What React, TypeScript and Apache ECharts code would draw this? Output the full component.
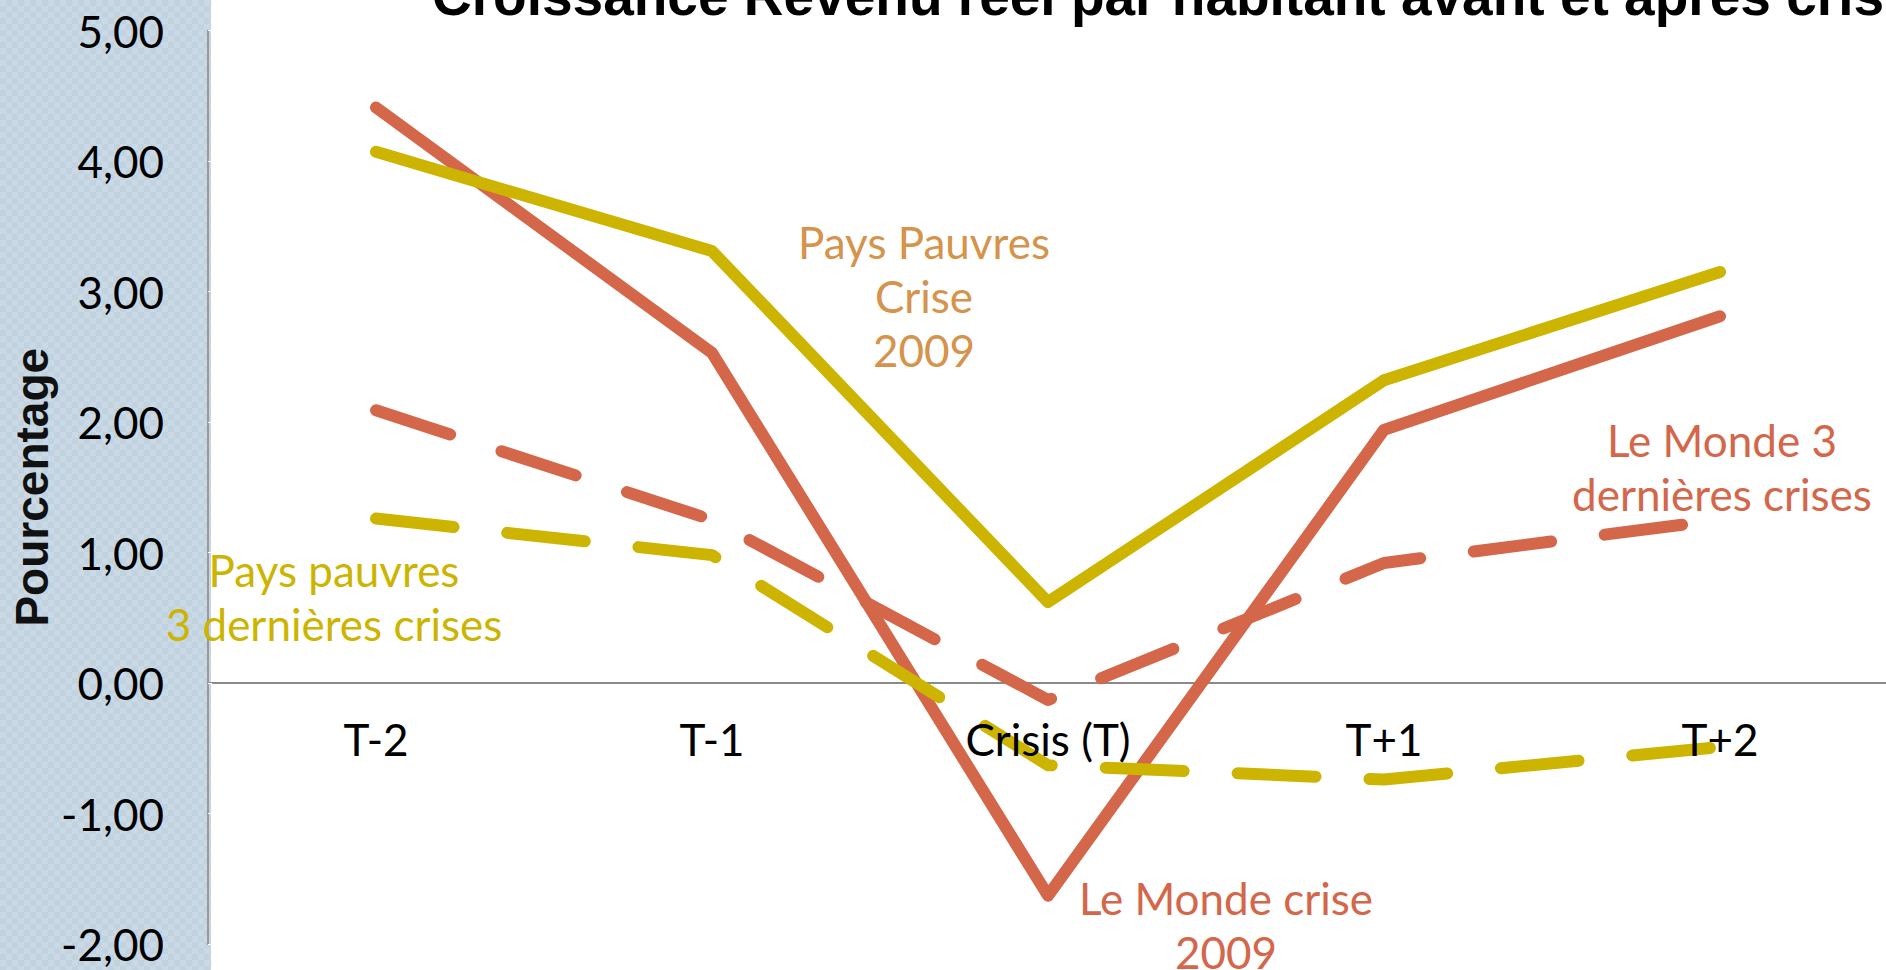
import React, { useEffect, useRef } from 'react';
import * as echarts from 'echarts';

const categories = ['T-2', 'T-1', 'Crisis (T)', 'T+1', 'T+2'];
const mondeCrise2009 = [4.41, 2.53, -1.63, 1.94, 2.81];
const pauvresCrise2009 = [4.07, 3.31, 0.62, 2.32, 3.15];
const monde3Crises = [2.09, 1.25, -0.13, 0.92, 1.25];
const pauvres3Crises = [1.26, 0.98, -0.63, -0.74, -0.49];
const yMin = -2;
const yMax = 5;
const yInterval = 1;
const zeroLineValue = 0;

const titleText = 'Croissance Revenu réel par habitant avant et après crise';
const yAxisName = 'Pourcentage';

const RED = '#D4664A';
const YELLOW = '#CCB400';
const TAN = '#D5934B';

const W = 1886;
const H = 970;
const GRID = { left: 208, right: -2, top: 30.5, bottom: 26 };

function makePattern(): HTMLCanvasElement | string {
  const c = document.createElement('canvas');
  c.width = 12;
  c.height = 12;
  const ctx = c.getContext('2d');
  if (!ctx) return '#C4D4E1';
  ctx.fillStyle = '#C2D3E0';
  ctx.fillRect(0, 0, 12, 12);
  ctx.fillStyle = '#CAD9E5';
  ctx.fillRect(0, 0, 6, 6);
  ctx.fillRect(6, 6, 6, 6);
  return c;
}

export default function App() {
  const ref = useRef<HTMLDivElement>(null);
  useEffect(() => {
    if (!ref.current) return;
    const chart = echarts.init(ref.current, undefined, { renderer: 'svg' });
    const pat = makePattern();
    const panelFill: any = typeof pat === 'string' ? pat : { image: pat, repeat: 'repeat' };
    const labelFont = 'Lato';
    const dash = [78, 54];
    const gridHeight = H - GRID.top - GRID.bottom;
    // lift the category axis from the grid bottom up to the value 0
    const zeroOffset = -((zeroLineValue - yMin) / (yMax - yMin)) * gridHeight;
    const mk = (name: string, data: number[], color: string, dashed: boolean, extra: any = {}) => ({
      name,
      type: 'line',
      data,
      symbol: 'none',
      lineStyle: { color, width: 12, type: dashed ? dash : 'solid', cap: 'round', join: 'round' },
      z: 3,
      ...extra,
    });
    const annot = (text: string, x: number, y: number, fill: string) => ({
      type: 'text',
      x,
      y,
      z: 30,
      silent: true,
      style: {
        text,
        fill,
        font: `44px ${labelFont}`,
        fontSize: 44,
        fontFamily: labelFont,
        lineHeight: 54,
        textAlign: 'center',
        align: 'center',
        textVerticalAlign: 'middle',
        verticalAlign: 'middle',
      },
    });
    chart.setOption({
      animation: false,
      backgroundColor: '#ffffff',
      grid: { ...GRID, containLabel: false, outerBoundsMode: 'none' },
      xAxis: {
        type: 'category',
        data: categories,
        position: 'bottom',
        offset: zeroOffset,
        boundaryGap: true,
        axisLine: { show: false, onZero: false },
        axisTick: { show: false },
        axisLabel: { show: true, fontSize: 44, fontFamily: labelFont, color: '#000', margin: 34 },
        splitLine: { show: false },
        z: 10,
      },
      yAxis: {
        type: 'value',
        min: yMin,
        max: yMax,
        interval: yInterval,
        position: 'left',
        axisLine: { show: true, lineStyle: { color: '#9A9A9A', width: 2 } },
        axisTick: { show: true, inside: true, length: 4, lineStyle: { color: '#ffffff', width: 1 } },
        axisLabel: {
          fontSize: 44,
          fontFamily: labelFont,
          color: '#000',
          margin: 44,
          formatter: (v: number) => v.toFixed(2).replace('.', ','),
        },
        splitLine: { show: false },
        name: yAxisName,
        nameLocation: 'middle',
        nameGap: 153,
        nameRotate: 90,
        nameMoveOverlap: false,
        nameTextStyle: { fontFamily: 'Liberation Sans', fontWeight: 'bold', fontSize: 46, color: '#111' },
        z: 5,
      },
      graphic: [
        {
          type: 'rect',
          z: -10,
          silent: true,
          shape: { x: 0, y: 0, width: 211, height: H },
          style: { fill: panelFill },
        },
        {
          type: 'text',
          x: 432,
          y: -4,
          z: 30,
          silent: true,
          style: {
            text: titleText,
            fill: '#000',
            font: 'bold 55px "Liberation Sans"',
            textAlign: 'left',
            align: 'left',
            textVerticalAlign: 'middle',
            verticalAlign: 'middle',
          },
        },
        annot('Pays Pauvres\nCrise\n2009', 924, 296, TAN),
        annot('Pays pauvres\n3 dernières crises', 334, 597, YELLOW),
        annot('Le Monde 3\ndernières crises', 1722, 467, RED),
        annot('Le Monde crise\n2009', 1226, 925, RED),
      ],
      series: [
        mk('Le Monde crise 2009', mondeCrise2009, RED, false, {
          markLine: {
            silent: true,
            z: 1,
            symbol: ['none', 'none'],
            label: { show: false },
            emphasis: { disabled: true },
            lineStyle: { color: '#8A8A8A', width: 2, type: 'solid' },
            data: [{ yAxis: zeroLineValue }],
          },
        }),
        mk('Pays pauvres crise 2009', pauvresCrise2009, YELLOW, false),
        mk('Le Monde 3 dernières crises', monde3Crises, RED, true),
        mk('Pays pauvres 3 dernières crises', pauvres3Crises, YELLOW, true),
      ],
    });
    return () => chart.dispose();
  }, []);
  return (
    <div
      ref={ref}
      style={{ position: 'absolute', left: 0, top: 0, width: W, height: H, background: '#fff' }}
    />
  );
}
